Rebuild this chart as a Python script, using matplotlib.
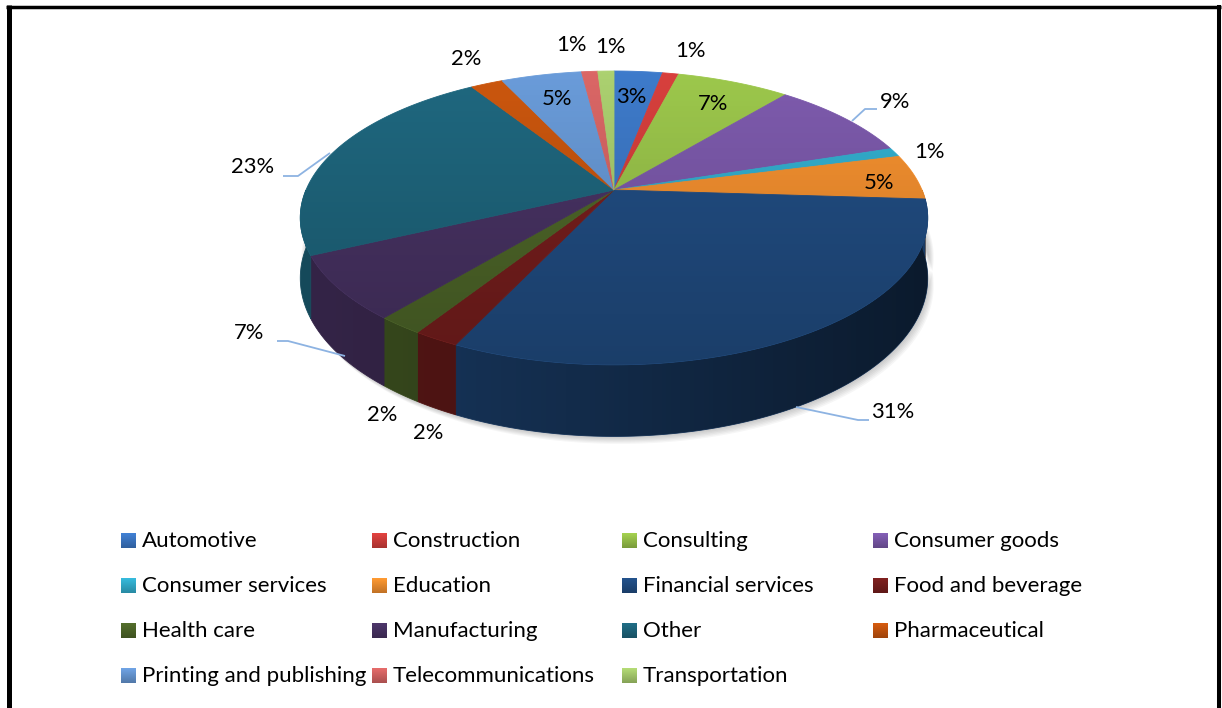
import numpy as np
import matplotlib
matplotlib.use("Agg")
import matplotlib.pyplot as plt
from matplotlib.patches import Polygon, PathPatch
from matplotlib.path import Path
from matplotlib.colors import to_rgb

# ---- data -------------------------------------------------------------
categories = ["Automotive", "Construction", "Consulting", "Consumer goods",
              "Consumer services", "Education", "Financial services",
              "Food and beverage", "Health care", "Manufacturing", "Other",
              "Pharmaceutical", "Printing and publishing",
              "Telecommunications", "Transportation"]
shares = [3, 1, 7, 9, 1, 5, 31, 2, 2, 7, 23, 2, 5, 1, 1]
colors = ["#3E7BCB", "#D8403D", "#9DC84C", "#7E5BAE", "#34B2D2", "#F99330",
          "#224F86", "#7A1F1E", "#50692A", "#4A3466", "#1F6880", "#CC570E",
          "#6A9CDA", "#DB6766", "#ACD170"]

# ---- label placement (pixel coordinates) ------------------------------
label_xy = {
    "Automotive": (631, 97), "Construction": (690, 51),
    "Consulting": (713, 104), "Consumer goods": (895, 102),
    "Consumer services": (929, 152), "Education": (879, 183),
    "Financial services": (893, 412), "Food and beverage": (428, 433),
    "Health care": (382, 415), "Manufacturing": (249, 333),
    "Other": (253, 167), "Pharmaceutical": (466, 59),
    "Printing and publishing": (557, 99), "Telecommunications": (571, 45),
    "Transportation": (610, 47),
}
leaders = {
    "Consumer goods": [(852, 121), (865, 109), (877, 109)],
    "Financial services": [(796, 407), (858, 420), (869, 420)],
    "Manufacturing": [(277, 341), (288, 341), (345, 356)],
    "Other": [(283, 176), (298, 176), (330, 153)],
}

FONT = "Lato"
W, H = 1222, 708
fig = plt.figure(figsize=(W / 100, H / 100), dpi=100)
ax = fig.add_axes([0, 0, 1, 1])
ax.set_xlim(0, W)
ax.set_ylim(H, 0)
ax.axis("off")

# ---- pie geometry with a mild perspective ------------------------------
cx, cy = 614.0, 190.0
rx, ry = 308.0, 141.6
persp = 0.19
depth = 58.0


def proj(t, h=0.0):
    """Project angle t (radians, clockwise from 12 o'clock) at height h."""
    u = np.sin(t)
    v = -np.cos(t)
    s = 1.0 / (1.0 - persp * v)
    return cx + rx * u * s, cy + (ry * v + h) * s


def arc(a, b, h=0.0, n=None):
    if n is None:
        n = max(4, int(abs(b - a) / np.radians(0.5)))
    t = np.linspace(a, b, n)
    x, y = proj(t, h)
    return np.column_stack([x, y])


def shade(c, f):
    r, g, b = to_rgb(c)
    return (min(r * f, 1), min(g * f, 1), min(b * f, 1))


fr = np.array(shares, dtype=float) / np.sum(shares)
edges = np.concatenate([[0], np.cumsum(fr)]) * 2 * np.pi

# soft shadow under the cake
for i in range(6):
    off = 1.5 + i * 1.2
    lower = arc(np.pi / 2 - 0.1, 3 * np.pi / 2 + 0.1, depth)[::-1] + np.array([off * 0.8, off])
    upper = arc(np.pi / 2 - 0.1, 3 * np.pi / 2 + 0.1, depth - 20) + np.array([off * 0.8, 0])
    ax.add_patch(Polygon(np.vstack([upper, lower]), closed=True,
                         fc=(0, 0, 0), ec="none", alpha=0.035, zorder=1))

# outer walls (front half only)
lo, hi = np.pi / 2, 3 * np.pi / 2
for a, b, c in zip(edges[:-1], edges[1:], colors):
    a2, b2 = max(a, lo), min(b, hi)
    if a2 >= b2:
        continue
    pts = np.vstack([arc(a2, b2, 0), arc(b2, a2, depth)])
    sc = shade(c, 0.74)
    ax.add_patch(Polygon(pts, closed=True, fc=sc, ec=sc, lw=0.6, zorder=2))

# darkening of the wall towards the right
wall = np.vstack([arc(lo, hi, 0), arc(hi, lo, depth)])
wall_patch = PathPatch(Path(wall, closed=True), fc="none", ec="none")
ax.add_patch(wall_patch)
gx = np.linspace(0, 1, 256)
grad = np.zeros((2, 256, 4))
grad[..., 3] = (0.05 + 0.5 * gx ** 1.1)[None, :]
im = ax.imshow(grad, extent=[300, 930, 440, 190], aspect="auto",
               interpolation="bilinear", zorder=2.5)
im.set_clip_path(wall_patch)

# top faces
for a, b, c in zip(edges[:-1], edges[1:], colors):
    pts = np.vstack([[cx, cy], arc(a, b, 0)])
    ax.add_patch(Polygon(pts, closed=True, fc=c, ec=c, lw=0.6, zorder=3))

top = arc(0, 2 * np.pi, 0, n=720)
top_patch = PathPatch(Path(top, closed=True), fc="none", ec="none")
ax.add_patch(top_patch)
gy = np.linspace(0, 1, 256)
tg = np.zeros((256, 2, 4))
tg[..., 3] = (0.22 * gy)[:, None]
im2 = ax.imshow(tg, extent=[295, 935, 368, 68], aspect="auto",
                interpolation="bilinear", zorder=3.5)
im2.set_clip_path(top_patch)

# data labels and leader lines
for name, pts in leaders.items():
    p = np.array(pts)
    ax.plot(p[:, 0], p[:, 1], color="#8DB3E2", lw=1.3, zorder=4,
            solid_capstyle="butt")
for name, val in zip(categories, shares):
    x, y = label_xy[name]
    ax.text(x, y, f"{val}%", family=FONT, fontsize=15.8, color="black",
            ha="center", va="center", zorder=5)

# legend
col_x = [121, 372, 622, 873]
row_y = [541, 586, 631, 676]
msz = 15
for i, (name, c) in enumerate(zip(categories, colors)):
    x = col_x[i % 4]
    y = row_y[i // 4]
    top_c = np.array(shade(c, 1.05))
    bot_c = np.array(shade(c, 0.78))
    g = np.linspace(0, 1, 16)[:, None]
    sw = (top_c[None, :] * (1 - g) + bot_c[None, :] * g)[:, None, :]
    ax.imshow(sw, extent=[x, x + msz, y + msz / 2, y - msz / 2],
              aspect="auto", interpolation="bilinear", zorder=5)
    ax.text(x + 21, y, name, family=FONT, fontsize=16, color="black",
            ha="left", va="center", zorder=5)

# frame
ax.plot([8.5, 8.5], [5, H + 5], color="black", lw=3.6,
        solid_capstyle="butt", zorder=6)
ax.plot([6, 1221], [6.5, 6.5], color="black", lw=2.5,
        solid_capstyle="butt", zorder=6)
ax.plot([1219, 1219], [5, H + 5], color="black", lw=2.9,
        solid_capstyle="butt", zorder=6)

ax.set_xlim(0, W)
ax.set_ylim(H, 0)
fig.savefig("out.png", dpi=100)
